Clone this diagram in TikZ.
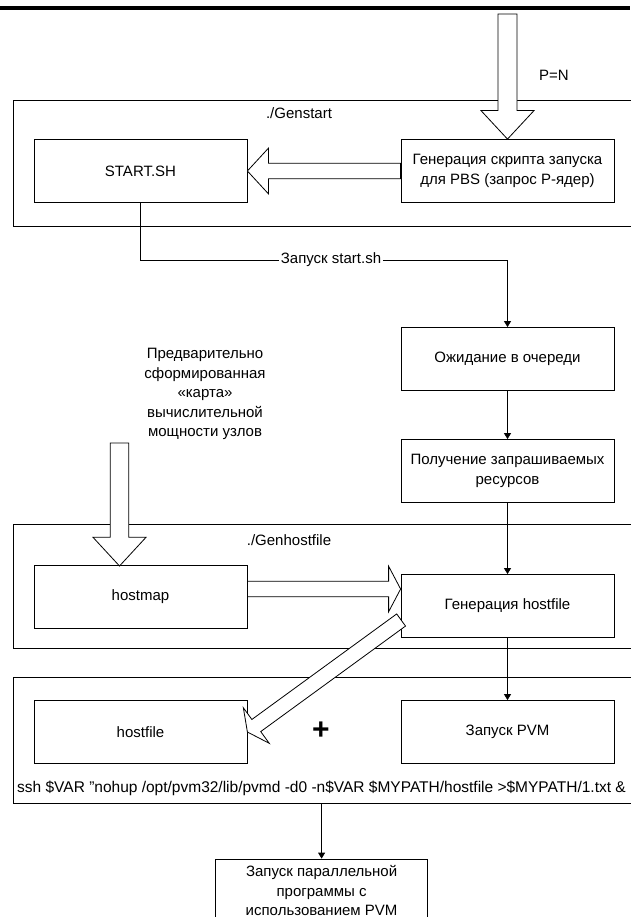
\documentclass[tikz,border=0pt]{standalone}
\usepackage{fontspec}
\setmainfont{Liberation Sans}
\usetikzlibrary{calc,arrows.meta}
\newcommand\blockarrow[5]{%
  \coordinate (ba-base) at ($(#2)!#5!(#1)$);
  \draw[blockarr] ($(#1)!#3!90:(#2)$) -- ($(ba-base)!#3!90:(#2)$) -- ($(ba-base)!#4!90:(#2)$) -- (#2)
    -- ($(ba-base)!#4!-90:(#2)$) -- ($(ba-base)!#3!-90:(#2)$) -- ($(#1)!#3!-90:(#2)$) -- cycle;}
\tikzset{
  box/.style={draw, line width=0.8pt, minimum width=213pt, minimum height=63pt, inner sep=2pt,
    align=center, font=\fontsize{15}{19.5}\selectfont},
  lbl/.style={font=\fontsize{15}{19.5}\selectfont, align=center, inner sep=0pt},
  conn/.style={line width=0.8pt, -{Triangle[width=7pt,length=6pt]}},
  plain/.style={line width=0.8pt},
  blockarr/.style={draw, fill=white, line width=0.8pt, line join=miter},
}
\begin{document}
\begin{tikzpicture}[x=1pt,y=-1pt]
\useasboundingbox (0,0) rectangle (630,917);
\fill[black] (0,6) rectangle (630,10.5);

% outer containers
\draw[plain] (631,100) -- (13,100) -- (13,226) -- (631,226);
\draw[plain] (631,524) -- (13,524) -- (13,648) -- (631,648);
\draw[plain] (631,677) -- (13,677) -- (13,803.5) -- (631,803.5);
\node[lbl] (gstitle) at (299,113) {./Genstart};
\node[lbl] (ghtitle) at (289,540) {./Genhostfile};

% boxes
\node[box] (startsh) at (140.5,171) {START.SH};
\node[box] (genscr) at (507.5,171) {Генерация скрипта запуска\\для PBS (запрос P-ядер)};
\node[box] (wait) at (507.5,359) {Ожидание в очереди};
\node[box] (getres) at (507.5,471) {Получение запрашиваемых\\ресурсов};
\node[box] (hostmap) at (140.5,597) {hostmap};
\node[box] (genhf) at (507.5,606) {Генерация hostfile};
\node[box] (hostfile) at (140.5,732) {hostfile};
\node[box] (pvm) at (507.5,732) {Запуск PVM};
\node[box, minimum width=212pt] (final) at (321.6,890.5) {Запуск параллельной\\программы с\\использованием PVM};

% labels
\node[lbl] (pn) at (554,75) {P=N};
\node[lbl] (mapnote) at (205,394) {Предварительно\\сформированная\\«карта»\\вычислительной\\мощности узлов};
\node[font=\bfseries\fontsize{30}{30}\selectfont, inner sep=0pt] (plus) at (321,731) {+};
\node[lbl, anchor=west, font=\fontsize{15.5}{19.5}\selectfont] (ssh) at (17,788) {ssh \$VAR "nohup /opt/pvm32/lib/pvmd -d0 -n\$VAR \$MYPATH/hostfile >\$MYPATH/1.txt \&};
\node[lbl, fill=white, inner sep=1.5pt] (runlbl) at (331,260) {Запуск start.sh};

% connectors
\draw[plain] (startsh.south) |- (runlbl.west);
\draw[conn] (runlbl.east) -| (wait.north);
\draw[conn] (wait) -- (getres);
\draw[conn] (getres) -- (genhf);
\draw[conn] (genhf) -- (pvm);
\coordinate (sshbot) at (321.6,803.5);
\draw[conn] (sshbot) -- (final.north);

% block arrows
\coordinate (pnstart) at (507.5,14);
\blockarrow{pnstart}{genscr.north}{9.5pt}{26.5pt}{28.5pt}
\blockarrow{genscr.west}{startsh.east}{7.75pt}{22.8pt}{21pt}
\coordinate (hmstart) at (119.5,443);
\coordinate (hmtip) at (119.5,566);
\blockarrow{hmstart}{hmtip}{9.3pt}{26.5pt}{28.7pt}
\coordinate (rastart) at ($(hostmap.east)+(0,-8)$);
\coordinate (ratip) at ($(genhf.west)+(0,-17)$);
\blockarrow{rastart}{ratip}{7.75pt}{22.8pt}{12pt}
\coordinate (dstart) at ($(genhf.west)+(0.5,14)$);
\blockarrow{dstart}{hostfile.east}{7.5pt}{22pt}{11pt}
\end{tikzpicture}
\end{document}
